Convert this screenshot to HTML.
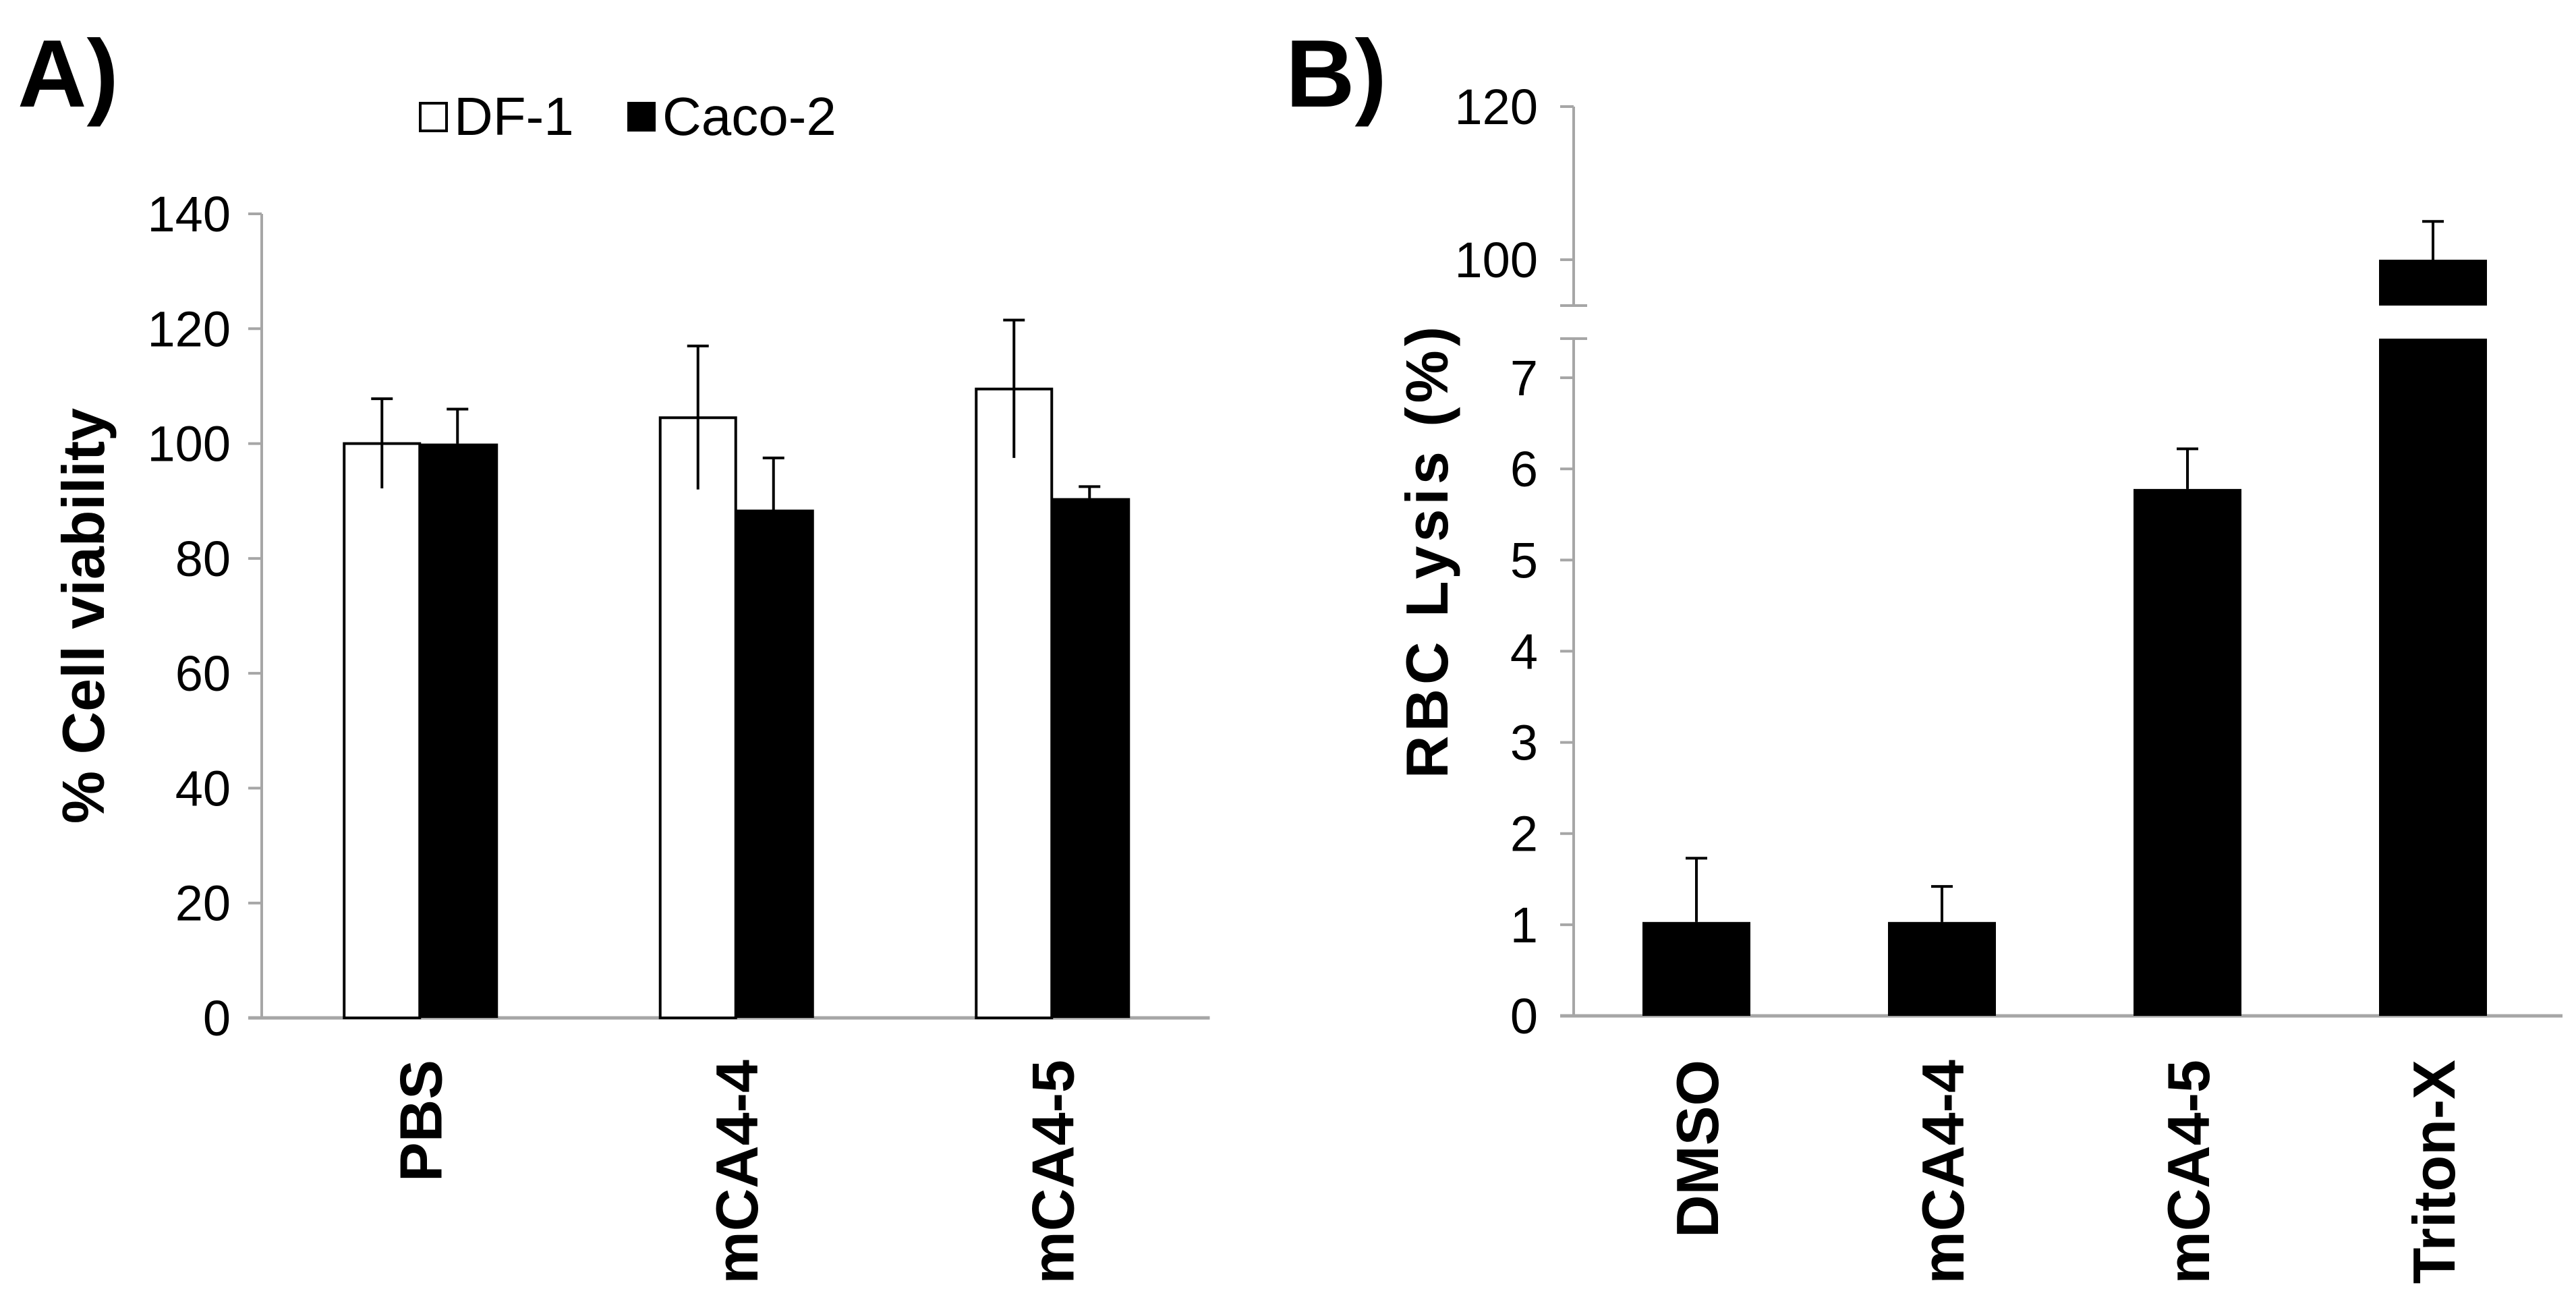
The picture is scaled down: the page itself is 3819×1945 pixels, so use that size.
<!DOCTYPE html>
<html><head><meta charset="utf-8"><style>
html,body{margin:0;padding:0;background:#fff}
svg{display:block;font-family:"Liberation Sans",Arial,sans-serif}
</style></head><body>
<svg id="fig" width="3819" height="1945" viewBox="0 0 3819 1945">
<text x="26" y="158" font-size="142" font-weight="bold">A)</text>
<text x="1906" y="158" font-size="142" font-weight="bold">B)</text>
<g id="legend">
 <rect x="623" y="153" width="39" height="41" fill="#fff" stroke="#000" stroke-width="4"/>
 <text x="673" y="200" font-size="80">DF-1</text>
 <rect x="930" y="151" width="42" height="44" fill="#000"/>
 <text x="982" y="200" font-size="80">Caco-2</text>
</g>
<g id="chartA"></g>
<g id="chartB"></g>
</svg>
<script>
const catsA = ["PBS","mCA4-4","mCA4-5"];
const df1 = [100,104.5,109.5];
const df1Err = [7.8,12.5,12];
const caco2 = [100,88.5,90.5];
const caco2Err = [6,9,2];
const ticksA = [0,20,40,60,80,100,120,140];

const catsB = ["DMSO","mCA4-4","mCA4-5","Triton-X"];
const lysis = [1.03,1.03,5.78,100];
const lysisErr = [0.7,0.39,0.44,5];
const ticksBLow = [0,1,2,3,4,5,6,7];
const ticksBHigh = [100,120];

const NS="http://www.w3.org/2000/svg";
function mk(tag,attrs,parent,txt){const e=document.createElementNS(NS,tag);for(const k in attrs)e.setAttribute(k,attrs[k]);if(txt!==undefined)e.textContent=txt;parent.appendChild(e);return e;}
const AX="#a6a6a6";

// Chart A
const gA=document.getElementById('chartA');
const baseA=1509;
const yA=v=>baseA-(v/140)*(baseA-317);
const xA0=388, grpW=468.5, xA1=xA0+grpW*3;
const cxA=i=>xA0+grpW*(i+0.5);
const barW=112;
mk('line',{x1:xA0,y1:317,x2:xA0,y2:baseA,stroke:AX,'stroke-width':4},gA);
mk('line',{x1:xA0-20,y1:baseA,x2:xA1,y2:baseA,stroke:AX,'stroke-width':5},gA);
ticksA.forEach(t=>{
 mk('line',{x1:xA0-20,y1:yA(t),x2:xA0,y2:yA(t),stroke:AX,'stroke-width':4},gA);
 const tx=mk('text',{x:342,y:yA(t)+26,'font-size':74,'text-anchor':'end'},gA,String(t));
 
 
});
function errBar(g,x,yTop,yErr,w){
 mk('line',{x1:x,y1:yTop,x2:x,y2:yErr,stroke:'#000','stroke-width':4},g);
 mk('line',{x1:x-w,y1:yErr,x2:x+w,y2:yErr,stroke:'#000','stroke-width':4},g);
}
catsA.forEach((c,i)=>{
 const cx=cxA(i);
 const b1=mk('rect',{x:cx-barW,y:yA(df1[i]),width:barW,height:baseA-yA(df1[i]),fill:'#fff',stroke:'#000','stroke-width':4},gA);
 
 
 const b2=mk('rect',{x:cx,y:yA(caco2[i]),width:barW+4,height:baseA-yA(caco2[i]),fill:'#000'},gA);
 
 
 errBar(gA,cx-barW/2,yA(df1[i]-df1Err[i]),yA(df1[i]+df1Err[i]),16);
 errBar(gA,cx+barW/2,yA(caco2[i]),yA(caco2[i]+caco2Err[i]),16);
 const lb=mk('text',{transform:`translate(${cx+32},1571) rotate(-90)`,'font-size':88,'font-weight':'bold','text-anchor':'end'},gA,c);
 
 
});
const tA=mk('text',{transform:'translate(154,913) rotate(-90)','font-size':88,'font-weight':'bold','text-anchor':'middle'},gA,'% Cell viability');



// Chart B
const gB=document.getElementById('chartB');
const baseB=1506;
const yLow=v=>baseB-(v/7)*(baseB-560);
const yHigh=v=>385-((v-100)/20)*(385-158);
const xB0=2333, slot=364, xB1=xB0+slot*4+10;
const cxB=i=>xB0+slot*(i+0.5);
const bwB=160;
mk('line',{x1:xB0,y1:158,x2:xB0,y2:453,stroke:AX,'stroke-width':4},gB);
mk('line',{x1:xB0,y1:502,x2:xB0,y2:baseB,stroke:AX,'stroke-width':4},gB);
mk('line',{x1:xB0-20,y1:453,x2:xB0+20,y2:453,stroke:AX,'stroke-width':4},gB);
mk('line',{x1:xB0-20,y1:502,x2:xB0+20,y2:502,stroke:AX,'stroke-width':4},gB);
mk('line',{x1:xB0-20,y1:baseB,x2:xB1,y2:baseB,stroke:AX,'stroke-width':5},gB);
ticksBLow.forEach(t=>{
 mk('line',{x1:xB0-20,y1:yLow(t),x2:xB0,y2:yLow(t),stroke:AX,'stroke-width':4},gB);
 const tx=mk('text',{x:2280,y:yLow(t)+26,'font-size':74,'text-anchor':'end'},gB,String(t));
 
 
});
ticksBHigh.forEach(t=>{
 mk('line',{x1:xB0-20,y1:yHigh(t),x2:xB0,y2:yHigh(t),stroke:AX,'stroke-width':4},gB);
 const tx=mk('text',{x:2280,y:yHigh(t)+26,'font-size':74,'text-anchor':'end'},gB,String(t));
 
 
});
catsB.forEach((c,i)=>{
 const cx=cxB(i), v=lysis[i];
 if(v<=7.4){
  const b=mk('rect',{x:cx-bwB/2,y:yLow(v),width:bwB,height:baseB-yLow(v),fill:'#000'},gB);
  
  
  errBar(gB,cx,yLow(v),yLow(v+lysisErr[i]),16);
 } else {
  const b=mk('rect',{x:cx-bwB/2,y:502,width:bwB,height:baseB-502,fill:'#000'},gB);
  
  
  const b2=mk('rect',{x:cx-bwB/2,y:yHigh(v),width:bwB,height:453-yHigh(v),fill:'#000'},gB);
  
  
  errBar(gB,cx,yHigh(v),yHigh(v+lysisErr[i]),16);
 }
 const lb=mk('text',{transform:`translate(${cx+32},1571) rotate(-90)`,'font-size':88,'font-weight':'bold','text-anchor':'end'},gB,c);
 
 
});
const tB=mk('text',{transform:'translate(2146,816) rotate(-90)','font-size':88,'font-weight':'bold','text-anchor':'middle','letter-spacing':6},gB,'RBC Lysis (%)');


</script>
</body></html>
